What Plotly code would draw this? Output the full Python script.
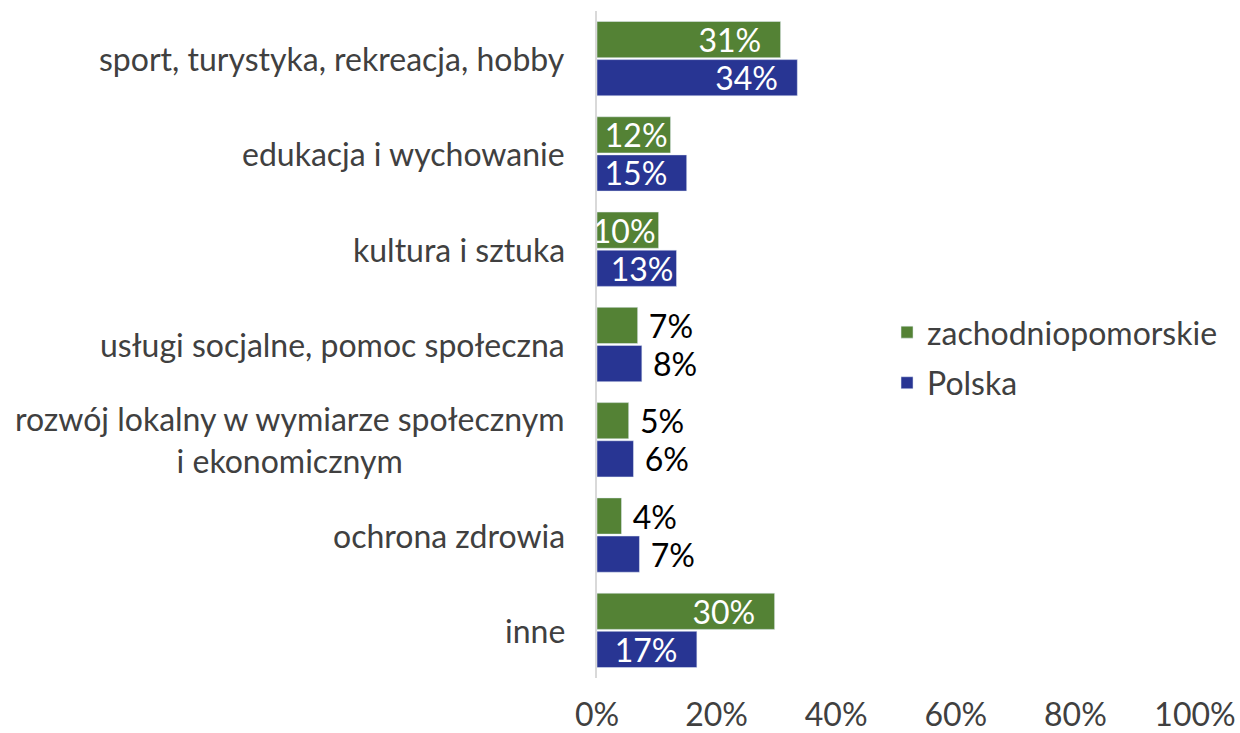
import plotly.graph_objects as go

categories = ["sport, turystyka, rekreacja, hobby", "edukacja i wychowanie", "kultura i sztuka",
              "usługi socjalne, pomoc społeczna",
              "rozwój lokalny w wymiarze społecznym<br>i ekonomicznym",
              "ochrona zdrowia", "inne"]
# bar lengths (percent)
zach = [30.7, 12.3, 10.3, 6.8, 5.3, 4.1, 29.7]
polska = [33.5, 15.0, 13.3, 7.5, 6.1, 7.1, 16.7]
# data labels as printed in the picture
zach_labels = ["31%", "12%", "10%", "7%", "5%", "4%", "30%"]
polska_labels = ["34%", "15%", "13%", "8%", "6%", "7%", "17%"]
ticks = [0, 20, 40, 60, 80, 100]
tick_labels = ["0%", "20%", "40%", "60%", "80%", "100%"]

GREEN = "#548235"
BLUE = "#283593"
FONT = "Lato"
NB = "\u00a0"
FS = 32


def pos(vals):
    return ["inside" if v >= 10 else "outside" for v in vals]


def padded(vals, labs):
    out = []
    for v, t in zip(vals, labs):
        if v < 10:
            out.append(f"{NB}{t}")
        elif v >= 14.5:
            out.append(f"{t}{NB}{NB}")
        else:
            out.append(t)
    return out


fig = go.Figure()
for name, vals, labs, col in [("zachodniopomorskie", zach, zach_labels, GREEN),
                              ("Polska", polska, polska_labels, BLUE)]:
    fig.add_trace(go.Bar(
        y=categories, x=vals, name=name, orientation="h", marker_color=col,
        legendgroup=name, hoverinfo="skip",
        text=padded(vals, labs), textposition=pos(vals),
        insidetextanchor="end", constraintext="none", cliponaxis=False,
        insidetextfont=dict(color="white", size=FS, family=FONT),
        outsidetextfont=dict(color="black", size=FS, family=FONT),
    ))

for c in categories:
    fig.add_annotation(x=0, xref="paper", y=c, yref="y", text=c, showarrow=False,
                       xanchor="right", align="center", xshift=-30,
                       font=dict(size=FS, family=FONT, color="#404040"))

fig.update_layout(
    width=1240, height=733, barmode="group", bargap=0.2, bargroupgap=0.05,
    plot_bgcolor="white", paper_bgcolor="white",
    margin=dict(l=597, r=45, t=11, b=55, autoexpand=False),
    font=dict(family=FONT, color="#404040"),
    legend=dict(x=0.485, y=0.48, xanchor="left", yanchor="middle",
                font=dict(size=FS, family=FONT, color="#404040"),
                itemwidth=30, traceorder="grouped", tracegroupgap=6),
)
fig.update_xaxes(range=[0, 100], tickvals=ticks, ticktext=tick_labels, showgrid=False,
                 zeroline=False, showline=False, ticklabelstandoff=15, automargin=False,
                 ticklabeloverflow="allow",
                 tickfont=dict(size=FS, family=FONT, color="#404040"))
fig.update_yaxes(autorange="reversed", showticklabels=False, showgrid=False, automargin=False,
                 showline=True, linecolor="#d9d9d9", linewidth=2, zeroline=False)

fig.write_html("out.html", config={"displayModeBar": False},
               post_script="document.body.style.margin='0';")
